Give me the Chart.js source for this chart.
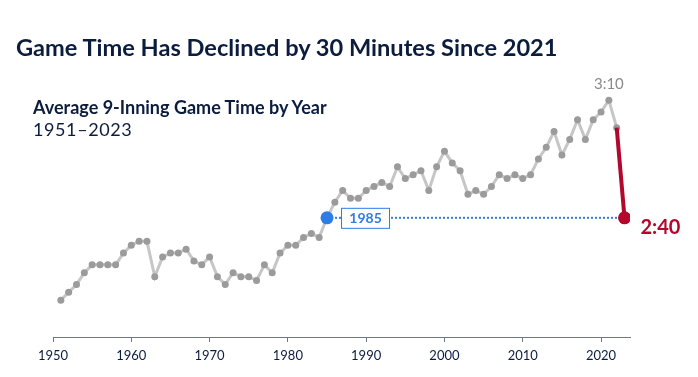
<!DOCTYPE html>
<html>
<head>
<meta charset="utf-8">
<script src="https://cdn.jsdelivr.net/npm/chart.js@4/dist/chart.umd.min.js"></script>
<style>
  body { margin: 0; background: #fff; }
  #wrap { position: relative; width: 698px; height: 377px; overflow: hidden; }
  #chart { position: absolute; left: 0; top: 0; }
  .title { position: absolute; left: 16px; top: 33px; font: 700 23.6px Lato, sans-serif; color: #0c1c3d; white-space: nowrap; }
  .sub { position: absolute; left: 33px; top: 96px; font: 700 18px Lato, sans-serif; color: #0c1c3d; white-space: nowrap; }
  .years { position: absolute; left: 33px; top: 118px; font: 400 18px Lato, sans-serif; color: #0c1c3d; white-space: nowrap; letter-spacing: 0.6px; }
</style>
</head>
<body>
<div id="wrap">
  <canvas id="chart" width="698" height="377"></canvas>
  <div class="title">Game Time Has Declined by 30 Minutes Since 2021</div>
  <div class="sub">Average 9-Inning Game Time by Year</div>
  <div class="years">1951–2023</div>
</div>
<script>
// season years
const years = [1951, 1952, 1953, 1954, 1955, 1956, 1957, 1958, 1959, 1960,
    1961, 1962, 1963, 1964, 1965, 1966, 1967, 1968, 1969, 1970,
    1971, 1972, 1973, 1974, 1975, 1976, 1977, 1978, 1979, 1980,
    1981, 1982, 1983, 1984, 1985, 1986, 1987, 1988, 1989, 1990,
    1991, 1992, 1993, 1994, 1995, 1996, 1997, 1998, 1999, 2000,
    2001, 2002, 2003, 2004, 2005, 2006, 2007, 2008, 2009, 2010,
    2011, 2012, 2013, 2014, 2015, 2016, 2017, 2018, 2019, 2020,
    2021, 2022, 2023]

// average 9-inning game time, minutes
const minutes = [139, 141, 143, 146, 148, 148, 148, 148, 151, 153,
    154, 154, 145, 150, 151, 151, 152, 149, 148, 150,
    145, 143, 146, 145, 145, 144, 148, 146, 151, 153,
    153, 155, 156, 155, 160, 164, 167, 165, 165, 167,
    168, 169, 168, 173, 170, 171, 172, 167, 173, 177,
    174, 172, 166, 167, 166, 168, 171, 170, 171, 170,
    171, 175, 178, 182, 176, 180, 185, 180, 185, 187,
    190, 183, 160]

const xTicks = [1950, 1960, 1970, 1980, 1990, 2000, 2010, 2020]

const matchYear = 1985   // year with the same game time as 2023
const peakYear = 2021
const lastYear = 2023

const navy = '#0c1c3d'
const red = '#b3072d'
const blue = '#2e7ce6'

function pt(year) {
    const i = years.indexOf(year)
    return { x: years[i], y: minutes[i] }
}

// gray history up to 2022
const history = years.slice(0, years.length - 1).map((y, i) => ({ x: y, y: minutes[i] }))

const labelsPlugin = {
    id: 'labels',
    afterDatasetsDraw(chart) {
        const ctx = chart.ctx
        const xs = chart.scales.x
        const ys = chart.scales.y
        ctx.save()

        // 3:10 peak
        const p = pt(peakYear)
        ctx.fillStyle = '#8a8a8a'
        ctx.font = '400 15px Lato, sans-serif'
        ctx.textAlign = 'center'
        ctx.textBaseline = 'alphabetic'
        ctx.fillText('3:10', xs.getPixelForValue(p.x), ys.getPixelForValue(p.y) - 11)

        // 2:40 last
        const l = pt(lastYear)
        ctx.fillStyle = red
        ctx.font = '700 20px Lato, sans-serif'
        ctx.textAlign = 'left'
        ctx.textBaseline = 'middle'
        ctx.fillText('2:40', xs.getPixelForValue(l.x) + 16, ys.getPixelForValue(l.y) + 10)

        // 1985 box
        const m = pt(matchYear)
        const bx = xs.getPixelForValue(m.x) + 14
        const by = ys.getPixelForValue(m.y)
        ctx.fillStyle = '#fff'
        ctx.fillRect(bx, by - 10, 49, 21)
        ctx.strokeStyle = blue
        ctx.lineWidth = 1
        ctx.strokeRect(bx + 0.5, by - 9.5, 48, 20)
        ctx.fillStyle = blue
        ctx.font = '700 14px Lato, sans-serif'
        ctx.textAlign = 'center'
        ctx.fillText('1985', bx + 24.5, by + 1)

        ctx.restore()
    }
}

const config = {
    type: 'line',
    data: {
        datasets: [
            {
                // dotted guide at the 2023 level
                data: [pt(matchYear), pt(lastYear)],
                borderColor: blue,
                borderWidth: 2,
                borderDash: [2, 2],
                pointRadius: 0,
                order: 3
            },
            {
                data: history,
                borderColor: '#c6c6c6',
                borderWidth: 3,
                pointRadius: 3.5,
                pointBackgroundColor: '#9b9b9b',
                pointBorderWidth: 0,
                order: 2
            },
            {
                data: [pt(2022), pt(lastYear)],
                borderColor: red,
                borderWidth: 4,
                pointRadius: [0, 6.5],
                pointBackgroundColor: red,
                pointBorderWidth: 0,
                order: 1
            },
            {
                data: [pt(matchYear)],
                pointRadius: 6.5,
                pointBackgroundColor: blue,
                pointBorderWidth: 0,
                showLine: false,
                order: 0
            }
        ]
    },
    options: {
        responsive: false,
        animation: false,
        layout: { padding: { left: 53, right: 68, top: 61, bottom: 0 } },
        plugins: { legend: { display: false }, tooltip: { enabled: false } },
        scales: {
            x: {
                type: 'linear',
                min: 1950,
                max: 2023.7,
                afterBuildTicks(scale) {
                    scale.ticks = xTicks.map(v => ({ value: v }))
                },
                afterFit(scale) {
                    scale.height = 40
                },
                grid: { drawOnChartArea: false, tickLength: 5, color: '#6f7685', lineWidth: 1 },
                border: { color: '#6f7685', width: 1 },
                ticks: {
                    color: navy,
                    font: { family: 'Lato', size: 13 },
                    padding: 6,
                    maxRotation: 0,
                    callback: v => String(v)
                }
            },
            y: {
                display: false,
                min: 129.6,
                max: 200
            }
        }
    },
    plugins: [labelsPlugin]
}

new Chart(document.getElementById('chart').getContext('2d'), config)
</script>
</body>
</html>
